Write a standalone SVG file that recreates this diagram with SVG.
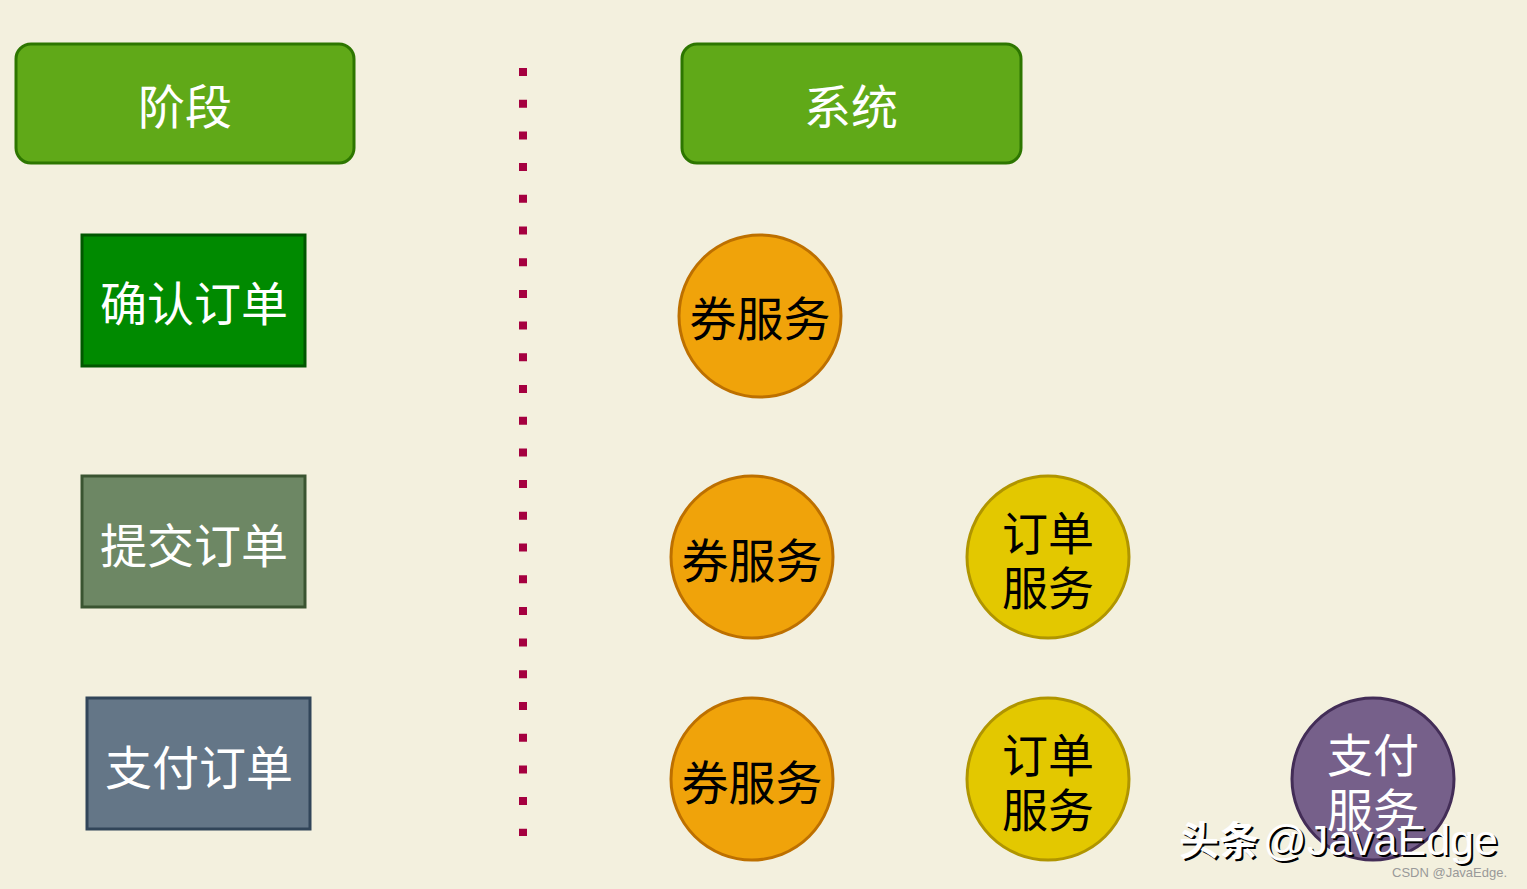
<svg xmlns="http://www.w3.org/2000/svg" width="1527" height="889" viewBox="0 0 1527 889">
<defs>
<style>
.hdr{fill:#60a918;stroke:#2d7600;stroke-width:3}
.t{font-family:"Noto Sans CJK SC","Noto Sans",sans-serif;font-size:47px;text-anchor:middle;dominant-baseline:central}
.t2{font-family:"Noto Sans CJK SC","Noto Sans",sans-serif;font-size:46px;text-anchor:middle;dominant-baseline:central}
.w{fill:#ffffff}
.k{fill:#000000}
.coupon{fill:#f0a30a;stroke:#bd7000;stroke-width:3}
.order{fill:#e3c800;stroke:#b09500;stroke-width:3}
.pay{fill:#76608a;stroke:#432d57;stroke-width:3}
</style>
</defs>
<rect x="0" y="0" width="1527" height="889" fill="#f3f0de"/>
<g id="connectors">
<line x1="523" y1="68" x2="523" y2="836" stroke="#a50040" stroke-width="8" stroke-dasharray="8 23.7"/>
</g>
<g id="stage-header"><rect class="hdr" x="16" y="44" width="338" height="119" rx="15"/><text class="t w" x="185" y="103">阶段</text></g>
<g id="system-header"><rect class="hdr" x="682" y="44" width="339" height="119" rx="15"/><text class="t w" x="851" y="103">系统</text></g>
<g id="confirm-order"><rect x="82" y="235" width="223" height="131" fill="#008a00" stroke="#005700" stroke-width="3"/><text class="t w" x="194" y="300">确认订单</text></g>
<g id="submit-order"><rect x="82" y="476" width="223" height="131" fill="#6d8764" stroke="#3a5431" stroke-width="3"/><text class="t w" x="194" y="542">提交订单</text></g>
<g id="pay-order"><rect x="87" y="698" width="223" height="131" fill="#647687" stroke="#314559" stroke-width="3"/><text class="t w" x="199" y="764">支付订单</text></g>
<g id="coupon-1"><circle class="coupon" cx="760" cy="316" r="81"/><text class="t k" x="760" y="315">券服务</text></g>
<g id="coupon-2"><circle class="coupon" cx="752" cy="557" r="81"/><text class="t k" x="752" y="557">券服务</text></g>
<g id="order-1"><circle class="order" cx="1048" cy="557" r="81"/><text class="t2 k" x="1048" y="530">订单</text><text class="t2 k" x="1048" y="585">服务</text></g>
<g id="coupon-3"><circle class="coupon" cx="752" cy="779" r="81"/><text class="t k" x="752" y="779">券服务</text></g>
<g id="order-2"><circle class="order" cx="1048" cy="779" r="81"/><text class="t2 k" x="1048" y="752">订单</text><text class="t2 k" x="1048" y="807">服务</text></g>
<g id="pay-service"><circle class="pay" cx="1373" cy="779" r="81"/><text class="t2 w" x="1373" y="752">支付</text><text class="t2 w" x="1373" y="807">服务</text></g>
<g id="watermark" font-family="Liberation Sans,'Noto Sans CJK SC',sans-serif">
<text x="1181" y="857" font-size="40" fill="#000" font-family="'Noto Sans CJK SC',sans-serif" font-weight="bold">头条</text>
<text x="1179" y="855" font-size="40" fill="#fff" font-family="'Noto Sans CJK SC',sans-serif" font-weight="bold">头条</text>
<text x="1265" y="857" font-size="43" fill="#000">@JavaEdge</text>
<text x="1263" y="855" font-size="43" fill="#fff">@JavaEdge</text>
<text x="1392" y="877" font-size="13" fill="#999">CSDN @JavaEdge.</text>
</g>
</svg>
